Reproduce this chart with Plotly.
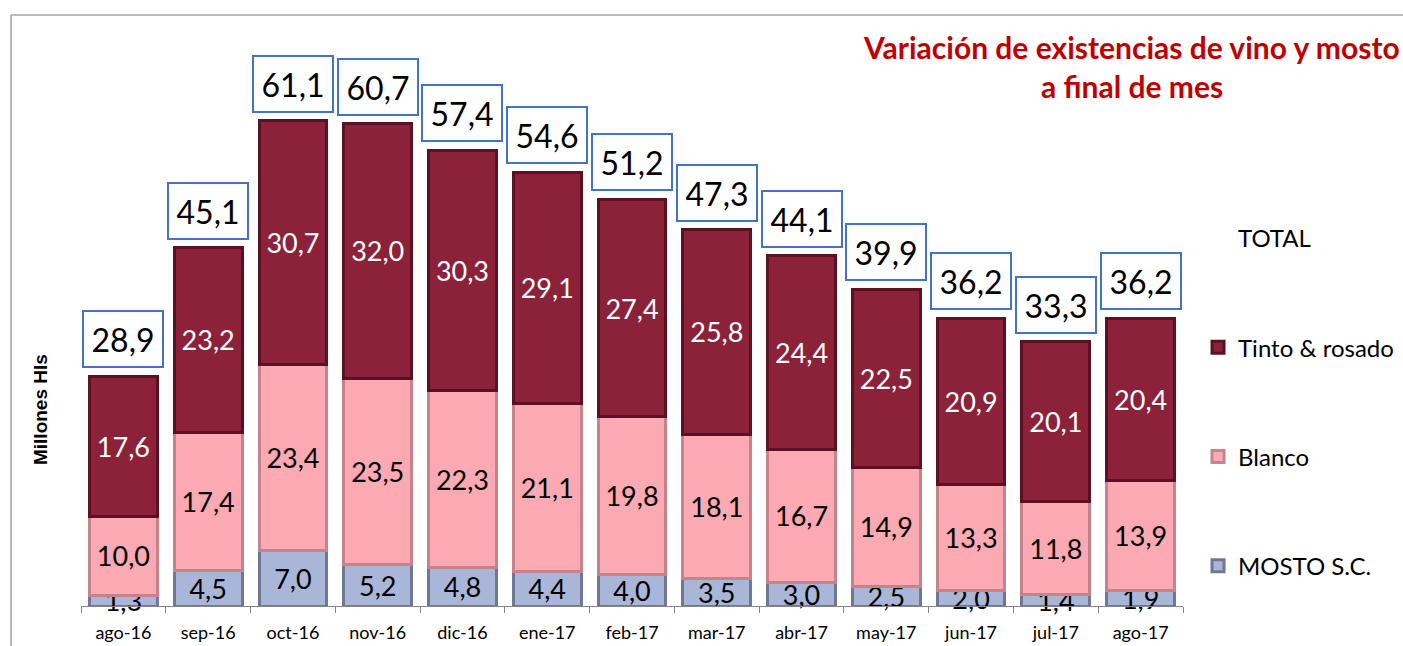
import plotly.graph_objects as go

months = ["ago-16", "sep-16", "oct-16", "nov-16", "dic-16", "ene-17", "feb-17",
          "mar-17", "abr-17", "may-17", "jun-17", "jul-17", "ago-17"]
mosto = [1.3, 4.5, 7.0, 5.2, 4.8, 4.4, 4.0, 3.5, 3.0, 2.5, 2.0, 1.4, 1.9]
blanco = [10.0, 17.4, 23.4, 23.5, 22.3, 21.1, 19.8, 18.1, 16.7, 14.9, 13.3, 11.8, 13.9]
tinto = [17.6, 23.2, 30.7, 32.0, 30.3, 29.1, 27.4, 25.8, 24.4, 22.5, 20.9, 20.1, 20.4]
totals = [28.9, 45.1, 61.1, 60.7, 57.4, 54.6, 51.2, 47.3, 44.1, 39.9, 36.2, 33.3, 36.2]

FONT = "Lato"

fig = go.Figure()

series = [
    ("MOSTO S.C.", mosto, "#A9B6D8", "#6E7892", "black", 4),
    ("Blanco", blanco, "#FBA9B2", "#C7838C", "black", 3),
    ("Tinto & rosado", tinto, "#8C2239", "#5A1222", "white", 2),
]
for name, vals, face, edge, tcol, rank in series:
    fig.add_trace(go.Bar(
        x=months, y=vals, name=name, legendgroup=name, legendrank=rank,
        marker=dict(color=face, line=dict(color=edge, width=3)),
        text=vals, texttemplate="%{y:.1f}",
        textposition="inside", insidetextanchor="middle",
        constraintext="none", textangle=0, cliponaxis=False,
        textfont=dict(family=FONT, size=27, color=tcol),
        hoverinfo="skip",
    ))

fig.add_trace(go.Scatter(
    x=months, y=totals, name="TOTAL", legendgroup="TOTAL", legendrank=1,
    mode="markers", marker=dict(color="rgba(0,0,0,0)", size=1),
    hoverinfo="skip",
))

for m, t in zip(months, totals):
    fig.add_annotation(
        x=m, y=t, xref="x", yref="y", text=f"{t:.1f}".replace(".", ","),
        showarrow=False, yanchor="bottom", yshift=8,
        font=dict(family=FONT, size=32, color="black"),
        bgcolor="white", bordercolor="#4472C4", borderwidth=2,
        borderpad=5, width=68, height=44,
    )

fig.add_annotation(
    x=-0.0372, y=0.3525, xref="paper", yref="paper", text="<b>Millones Hls</b>",
    showarrow=False, textangle=-90, xanchor="center", yanchor="middle",
    font=dict(family="Liberation Sans", size=19, color="black"),
)

for txt, yy in [("<b>Variación de existencias de vino y mosto</b>", 1.0054),
                ("<b>a final de mes</b>", 0.9353)]:
    fig.add_annotation(
        x=0.9537, y=yy, xref="paper", yref="paper", text=txt,
        showarrow=False, xanchor="center", yanchor="middle",
        font=dict(family=FONT, size=30, color="#C00000"),
    )

frame = dict(color="#A6A6A6", width=1.5)
fig.add_shape(type="line", xref="paper", yref="paper",
              x0=-0.0635, x1=1.3, y0=1.063, y1=1.063, line=frame, layer="below")
fig.add_shape(type="line", xref="paper", yref="paper",
              x0=-0.0635, x1=-0.0635, y0=-0.3, y1=1.063, line=frame, layer="below")

fig.update_layout(
    width=1403, height=646,
    barmode="stack", bargap=0.2,
    separators=",.",
    margin=dict(l=81, r=220, t=50, b=40, autoexpand=False),
    paper_bgcolor="white", plot_bgcolor="white",
    font=dict(family=FONT, color="black"),
    legend=dict(
        xref="container", yref="container",
        x=0.8539, xanchor="left", y=0.6656, yanchor="top",
        traceorder="grouped", tracegroupgap=75, maxheight=600,
        font=dict(family=FONT, size=24, color="black"),
        bgcolor="rgba(0,0,0,0)",
    ),
    xaxis=dict(
        type="category", range=[-0.5, 12.5], automargin=False,
        showline=True, linecolor="#868686", linewidth=1,
        ticks="outside", tickson="boundaries", ticklen=6, tickcolor="#868686",
        tickfont=dict(family=FONT, size=18, color="black"),
        ticklabelstandoff=10,
        showgrid=False, fixedrange=True,
    ),
    yaxis=dict(range=[0, 70], visible=False, showgrid=False, automargin=False),
)

fig.write_html(
    "out.html",
    config={"displayModeBar": False},
    post_script="document.body.style.margin='0';document.body.style.overflow='hidden';",
)
